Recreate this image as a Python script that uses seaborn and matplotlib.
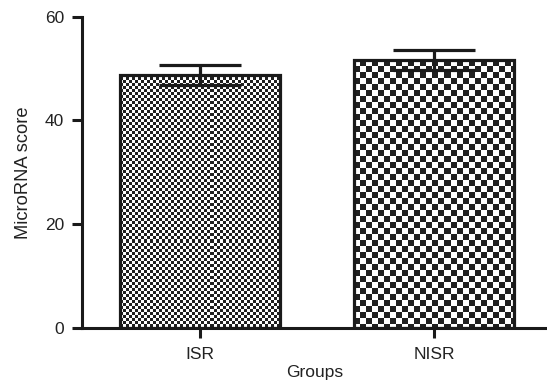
import numpy as np
import pandas as pd
import matplotlib
matplotlib.use("Agg")
import matplotlib.pyplot as plt
import seaborn as sns

groups = ["ISR", "NISR"]
means = [48.8, 51.6]
sems = [1.9, 1.95]
y_ticks = [0, 20, 40, 60]
check_px = [3, 6]  # checkerboard square size (pixels) for each bar

sns.set_theme(style="ticks")
plt.rcParams["font.family"] = ["Liberation Sans", "DejaVu Sans"]
plt.rcParams["font.size"] = 12.5

df = pd.DataFrame({"Groups": groups, "score": means})

fig = plt.figure(figsize=(5.47, 3.87), dpi=100)
ax = fig.add_axes([0.15, 0.1525, 0.85, 0.8045])

sns.barplot(data=df, x="Groups", y="score", errorbar=None, width=0.68,
            facecolor="none", edgecolor="#1a1a1a", linewidth=2.3, ax=ax, zorder=2)

ax.errorbar(range(len(groups)), means, yerr=sems, fmt="none", ecolor="#1a1a1a",
            elinewidth=2.3, capsize=29.5, capthick=2.3, zorder=3)

ax.set_xlim(-0.504, 1.483)
ax.set_ylim(0, 60)
ax.set_yticks(y_ticks)
ax.set_xlabel("Groups", fontsize=12.5, color="#222222", labelpad=2)
ax.set_ylabel("MicroRNA score", fontsize=13.2, color="#222222", labelpad=9)
ax.tick_params(axis="both", length=7, width=2.2, color="#1a1a1a",
               labelsize=12.5, labelcolor="#222222")
ax.tick_params(axis="y", pad=6)
ax.tick_params(axis="x", pad=7)
for s in ["top", "right"]:
    ax.spines[s].set_visible(False)
for s in ["left", "bottom"]:
    ax.spines[s].set_linewidth(2.2)
    ax.spines[s].set_color("#1a1a1a")

# checkerboard fill clipped to each bar
fig.canvas.draw()
for patch, sq in zip(ax.patches, check_px):
    x0, y0 = patch.get_x(), patch.get_y()
    w, h = patch.get_width(), patch.get_height()
    (px0, py0), (px1, py1) = ax.transData.transform([(x0, y0), (x0 + w, y0 + h)])
    nx = int(np.ceil(abs(px1 - px0) / sq))
    ny = int(np.ceil(abs(py1 - py0) / sq))
    board = np.indices((ny, nx)).sum(axis=0) % 2
    ext_x1 = x0 + nx * sq / abs(px1 - px0) * w
    ext_h = ny * sq / abs(py1 - py0) * h
    im = ax.imshow(board, cmap="gray_r", vmin=0, vmax=1.15, interpolation="nearest",
                   extent=(x0, ext_x1, y0 + h - ext_h, y0 + h), aspect="auto", zorder=1)
    im.set_clip_path(patch)

ax.set_xlim(-0.504, 1.483)
ax.set_ylim(0, 60)

fig.savefig("out.png", dpi=100)
